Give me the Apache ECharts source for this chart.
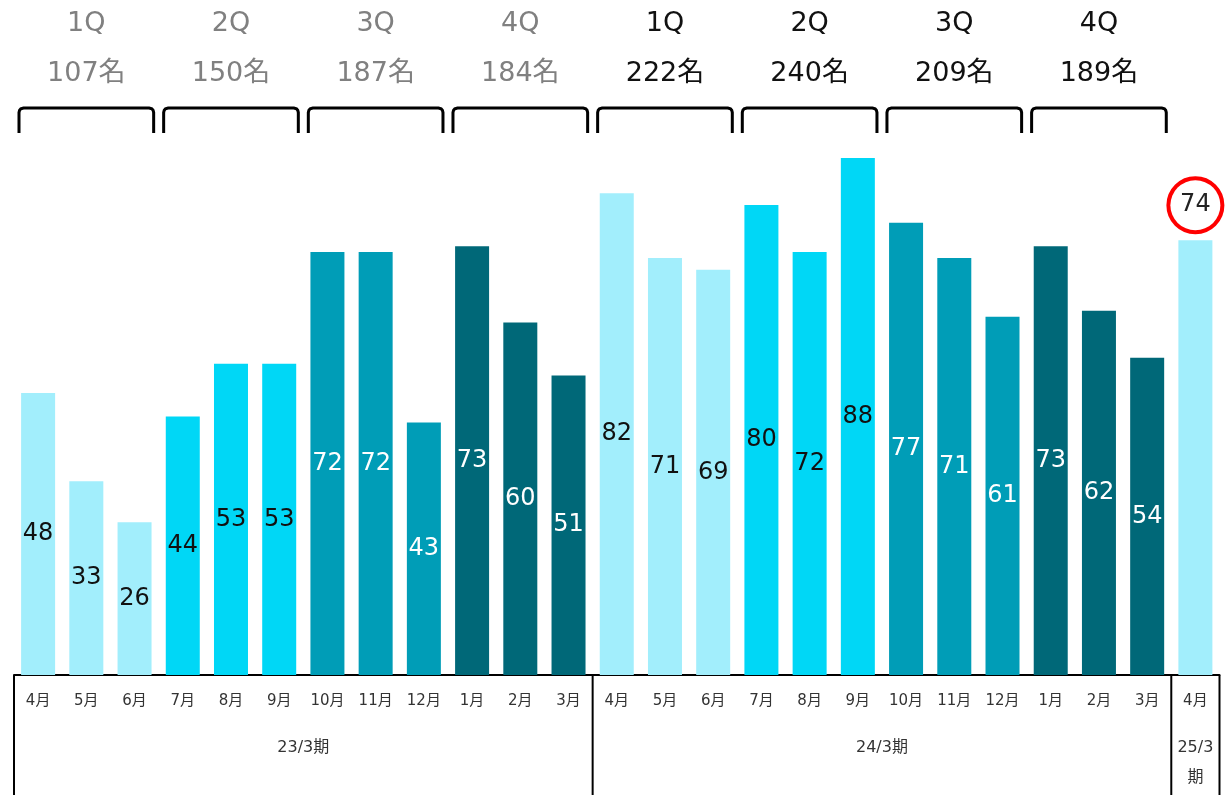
<!DOCTYPE html>
<html><head><meta charset="utf-8">
<script src="https://cdn.jsdelivr.net/npm/echarts@6/dist/echarts.min.js"></script>
<style>html,body{margin:0;padding:0;background:#fff}#c{width:1228px;height:795px}</style>
</head><body><div id="c"></div>
<script>
// ---- data ----
const months = ['4月','5月','6月','7月','8月','9月','10月','11月','12月','1月','2月','3月',
                '4月','5月','6月','7月','8月','9月','10月','11月','12月','1月','2月','3月','4月'];
const values = [48,33,26,44,53,53,72,72,43,73,60,51,
                82,71,69,80,72,88,77,71,61,73,62,54,74];
const fiscalLabels = ['23/3期','24/3期','25/3\n期'];
const fiscalSizes = [12,12,1];
const quarterLabels = ['1Q','2Q','3Q','4Q','1Q','2Q','3Q','4Q'];
const quarterTotals = [107,150,187,184,222,240,209,189];

const FONT = "'DejaVu Sans','Noto Sans CJK JP',sans-serif";
const qColors = ['#a2eefc','#00d7f6','#009db7','#006878'];
const qLabelColors = ['#111','#111','#fff','#fff'];

const data = values.map((v,i)=>{
  const q = Math.floor(i/3)%4;
  const item = {value:v, itemStyle:{color:qColors[q]},
    label:{color:qLabelColors[q]}};
  if (i === values.length-1) {
    item.label = {position:'top', distance:35, width:50, height:50, lineHeight:50,
      align:'center', verticalAlign:'middle', borderColor:'#ff0000', borderWidth:4,
      borderRadius:25, backgroundColor:'#fff', color:'#222', fontSize:24};
  }
  return item;
});

const chart = echarts.init(document.getElementById('c'), null, {renderer:'canvas'});
chart.setOption({
  animation:false,
  grid:{left:14, right:8.5, top:87.5, bottom:120, containLabel:false},
  xAxis:{type:'category', data:months,
    axisLine:{lineStyle:{color:'#000', width:2}},
    axisTick:{show:false},
    axisLabel:{color:'#333', fontSize:15, fontFamily:FONT, margin:19, interval:0}},
  yAxis:{type:'value', min:0, max:100, show:false, splitLine:{show:false}},
  series:[{type:'bar', data:data, barWidth:34,
    label:{show:true, position:'inside', fontSize:24, fontFamily:FONT}}]
});

function drawGraphics(){
  const cx = i => chart.convertToPixel({xAxisIndex:0}, i);
  const w = cx(1)-cx(0);
  const y0 = chart.convertToPixel({yAxisIndex:0}, 0);
  const g = [];
  // quarter labels and brackets
  quarterLabels.forEach((q,k)=>{
    const c = cx(3*k+1);
    const col = k<4 ? '#808080' : '#111';
    g.push({type:'text', x:c, y:24, style:{text:q, fill:col, font:'27px '+FONT, align:'center', verticalAlign:'middle'}});
    g.push({type:'text', x:c, y:74, style:{text:quarterTotals[k]+'名', fill:col, font:'27px '+FONT, align:'center', verticalAlign:'middle'}});
    const hw = 1.5*w - 5;
    const x1 = c-hw, x2 = c+hw;
    g.push({type:'polyline', shape:{points:[[x1,133],[x1,112.5],[x1+0.6,110.2],[x1+1.8,108.8],[x1+4.5,108],
      [x2-4.5,108],[x2-1.8,108.8],[x2-0.6,110.2],[x2,112.5],[x2,133]]},
      style:{stroke:'#000', lineWidth:3, fill:null}});
  });
  // fiscal table
  let start = 0;
  const bounds = [cx(0)-w/2];
  fiscalLabels.forEach((f,k)=>{
    const end = start+fiscalSizes[k]-1;
    const mid = (cx(start)+cx(end))/2;
    const multi = f.indexOf('\n')>=0;
    g.push({type:'text', x:mid, y: multi ? 763 : 748, style:{text:f, fill:'#333', font:'16px '+FONT, align:'center', verticalAlign:'middle', lineHeight:30}});
    bounds.push(cx(end)+w/2);
    start = end+1;
  });
  bounds.forEach(b=>{
    g.push({type:'line', shape:{x1:b, y1:y0, x2:b, y2:795}, style:{stroke:'#000', lineWidth:2}});
  });
  chart.setOption({graphic:g});
}
drawGraphics();
</script></body></html>
